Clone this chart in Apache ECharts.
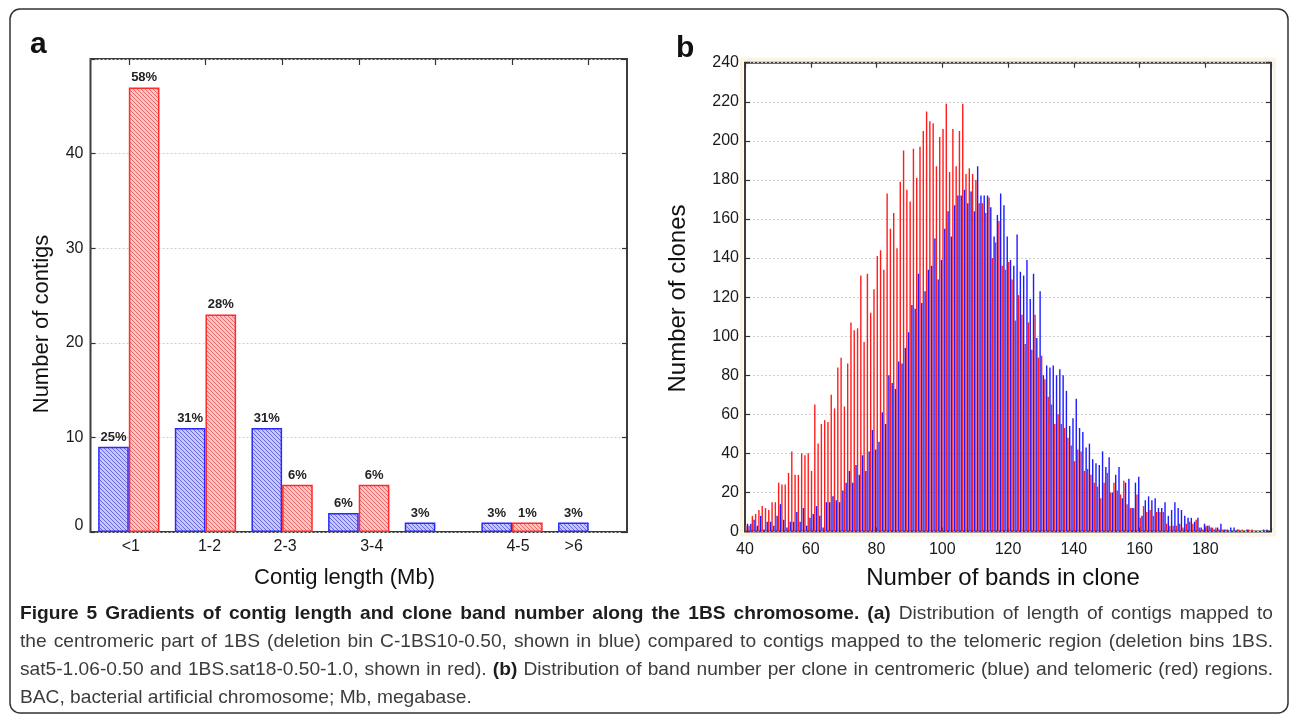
<!DOCTYPE html>
<html>
<head>
<meta charset="utf-8">
<script src="https://cdn.jsdelivr.net/npm/echarts@6/dist/echarts.min.js"></script>
<style>
  html, body { margin: 0; padding: 0; background: #fff; }
  #chart { width: 1290px; height: 717px; }
</style>
</head>
<body>
<div id="chart"></div>
<script>
// ---------------- DATA ----------------
// Panel a: contig length classes
const contigCats = ['<1', '1-2', '2-3', '3-4', '', '4-5', '>6'];
const contigBlue = [9, 11, 11, 2, 1, 1, 1];
const contigRed = [47, 23, 5, 5, 0, 1, 0];
const contigBluePct = ['25%', '31%', '31%', '6%', '3%', '3%', '3%'];
const contigRedPct = ['58%', '28%', '6%', '6%', '', '1%', ''];
const contigYTicks = [0, 10, 20, 30, 40];

// Panel b: number of bands in clone (40 .. 199)
const bandFirst = 40;
const bandRed = [
  3, 3, 8, 9, 11, 13, 12, 11, 15, 15,
  25, 24, 24, 30, 41, 29, 29, 40, 39, 40,
  31, 65, 45, 55, 57, 56, 70, 63, 84, 89,
  64, 86, 107, 103, 104, 131, 97, 132, 112, 124,
  141, 144, 134, 173, 155, 163, 145, 179, 195, 175,
  169, 196, 181, 197, 205, 215, 210, 209, 187, 202,
  206, 219, 184, 206, 187, 205, 219, 183, 186, 183,
  180, 168, 168, 163, 171, 140, 148, 159, 136, 134,
  138, 129, 108, 121, 111, 96, 107, 93, 111, 89,
  90, 78, 69, 65, 55, 60, 55, 53, 48, 44,
  36, 42, 41, 31, 32, 29, 25, 23, 17, 25,
  30, 20, 25, 21, 19, 26, 14, 12, 12, 19,
  7, 13, 10, 11, 8, 10, 10, 10, 4, 3,
  3, 3, 4, 2, 4, 5, 4, 6, 2, 1,
  3, 3, 2, 2, 1, 1, 1, 0, 0, 0,
  1, 1, 0, 1, 1, 0, 0, 0, 0, 0
];
const bandBlue = [
  4, 4, 6, 3, 8, 1, 5, 5, 3, 8,
  14, 6, 2, 5, 5, 10, 5, 12, 3, 7,
  9, 13, 8, 2, 15, 15, 18, 16, 15, 21,
  25, 31, 25, 34, 29, 39, 31, 41, 52, 42,
  46, 61, 55, 80, 76, 73, 87, 86, 94, 102,
  116, 114, 132, 117, 123, 134, 136, 150, 129, 139,
  155, 164, 151, 167, 172, 172, 175, 168, 174, 164,
  187, 172, 172, 172, 166, 151, 162, 173, 167, 151,
  139, 136, 152, 133, 131, 139, 119, 132, 99, 123,
  80, 85, 84, 85, 80, 83, 80, 72, 54, 58,
  68, 53, 51, 43, 45, 37, 35, 34, 41, 33,
  38, 20, 29, 33, 17, 25, 27, 12, 25, 28,
  8, 16, 18, 16, 17, 12, 12, 15, 8, 11,
  15, 12, 11, 8, 7, 7, 5, 7, 2, 4,
  3, 2, 1, 2, 4, 1, 1, 2, 2, 1,
  0, 0, 1, 0, 0, 0, 0, 1, 1, 0
];
const bandCats = bandRed.map((_, i) => String(bandFirst + i));
const bandXTicks = [40, 60, 80, 100, 120, 140, 160, 180];
const bandYTicks = [0, 20, 40, 60, 80, 100, 120, 140, 160, 180, 200, 220, 240];

// Texts
const panelATitle = 'a';
const panelBTitle = 'b';
const aXName = 'Contig length (Mb)';
const aYName = 'Number of contigs';
const bXName = 'Number of bands in clone';
const bYName = 'Number of clones';
const captionLines = [
  [{ t: 'Figure 5 Gradients of contig length and clone band number along the 1BS chromosome.', b: true }, { t: '(a)', b: true }, { t: 'Distribution of length of contigs mapped to', b: false }],
  [{ t: 'the centromeric part of 1BS (deletion bin C-1BS10-0.50, shown in blue) compared to contigs mapped to the telomeric region (deletion bins 1BS.', b: false }],
  [{ t: 'sat5-1.06-0.50 and 1BS.sat18-0.50-1.0, shown in red).', b: false }, { t: '(b)', b: true }, { t: 'Distribution of band number per clone in centromeric (blue) and telomeric (red) regions.', b: false }],
  [{ t: 'BAC, bacterial artificial chromosome; Mb, megabase.', b: false }]
];

// ---------------- STYLE ----------------
const FONT = "'Liberation Sans', Arial, sans-serif";
const gridA = { left: 90.5, top: 59, width: 536.5, height: 473 };
const gridB = { left: 745, top: 62.7, width: 526, height: 468.8 };
const labelShiftA = [2, 4, 3, 13, 0, 6, -15];

function hatch(bg, fg) {
  const c = document.createElement('canvas');
  c.width = 4; c.height = 4;
  const g = c.getContext('2d');
  g.fillStyle = bg; g.fillRect(0, 0, 4, 4);
  g.fillStyle = fg;
  for (let i = 0; i < 4; i++) g.fillRect(i, i, 1, 1);
  return c;
}
const blueHatch = { image: hatch('#c6c6f7', '#6a6ae4'), repeat: 'repeat' };
const redHatch = { image: hatch('#f9c6c6', '#ec6a6a'), repeat: 'repeat' };

const dotted = { show: true, lineStyle: { color: '#cfcfcf', type: [2, 2], width: 1 } };
const tickIn = (len) => ({ show: true, inside: true, length: len, lineStyle: { color: '#333', width: 1.2 } });
const noLine = { show: false, onZero: false };

// category items with per-label horizontal shift (padding)
const contigCatItems = contigCats.map((c, i) => {
  const s = labelShiftA[i];
  return { value: c, textStyle: { padding: s >= 0 ? [0, 0, 0, 2 * s] : [0, -2 * s, 0, 0] } };
});

// ---------------- CAPTION LAYOUT ----------------
const mctx = document.createElement('canvas').getContext('2d');
function tw(font, s) { mctx.font = font; return mctx.measureText(s).width; }
const capFamily = "'Liberation Sans'";
function capFont(bold, size) { return (bold ? 'bold ' : 'normal ') + size + 'px ' + capFamily; }
function lineWords(line) {
  const out = [];
  line.forEach(seg => seg.t.split(' ').forEach(w => { if (w) out.push({ w, b: seg.b }); }));
  return out;
}
function naturalWidth(line, size) {
  const ws = lineWords(line);
  let s = 0;
  ws.forEach(o => { s += tw(capFont(o.b, size), o.w); });
  s += (ws.length - 1) * tw(capFont(false, size), ' ');
  return s;
}
const capX0 = 20, capX1 = 1273;
const capTarget = 1238;
let capSize = 20 * capTarget / Math.max(naturalWidth(captionLines[0], 20), naturalWidth(captionLines[1], 20), naturalWidth(captionLines[2], 20));
capSize = Math.min(capSize, 21);
const capY = [614, 642, 670, 698];
const captionGraphics = [];
captionLines.forEach((line, li) => {
  const ws = lineWords(line);
  const widths = ws.map(o => tw(capFont(o.b, capSize), o.w));
  const sum = widths.reduce((a, b) => a + b, 0);
  const justify = li < captionLines.length - 1;
  const gap = justify ? (capX1 - capX0 - sum) / (ws.length - 1) : tw(capFont(false, capSize), ' ');
  let x = capX0;
  ws.forEach((o, i) => {
    captionGraphics.push({
      type: 'text', x: x, y: capY[li], silent: true,
      style: { text: o.w, fontSize: capSize, fontFamily: capFamily, fontWeight: o.b ? 'bold' : 'normal',
        fill: o.b ? '#1d1d1d' : '#3c3c3c', align: 'left', verticalAlign: 'middle' }
    });
    x += widths[i] + gap;
  });
});

// ---------------- CHART ----------------
const chart = echarts.init(document.getElementById('chart'), null, { renderer: 'canvas' });
const option = {
  animation: false,
  backgroundColor: '#ffffff',
  grid: [
    Object.assign({ show: true, borderColor: '#3d3d3d', borderWidth: 2, backgroundColor: 'transparent' }, gridA),
    Object.assign({ show: true, borderColor: '#3d3d3d', borderWidth: 2, backgroundColor: 'transparent' }, gridB)
  ],
  xAxis: [
    { gridIndex: 0, type: 'category', data: contigCatItems, position: 'bottom', boundaryGap: true,
      axisLine: noLine, axisTick: { show: false },
      axisLabel: { margin: 7, interval: 0, fontSize: 16, fontFamily: FONT, color: '#1a1a1a' } },
    { gridIndex: 0, type: 'category', data: contigCats, position: 'top', boundaryGap: true,
      axisLine: noLine, axisTick: Object.assign(tickIn(6), { alignWithLabel: true, interval: 0 }),
      axisLabel: { show: false } },
    { gridIndex: 1, type: 'category', data: bandCats, position: 'bottom', boundaryGap: true, show: false,
      axisLine: noLine },
    { gridIndex: 1, type: 'value', min: 40, max: 200, interval: 20, position: 'bottom',
      axisLine: noLine, axisTick: tickIn(4), splitLine: { show: false },
      axisLabel: { margin: 10, fontSize: 16, fontFamily: FONT, color: '#1a1a1a',
        formatter: v => bandXTicks.indexOf(v) >= 0 ? String(v) : '' } },
    { gridIndex: 1, type: 'value', min: 40, max: 200, interval: 20, position: 'top',
      axisLine: noLine, axisTick: tickIn(5), splitLine: { show: false }, axisLabel: { show: false } }
  ],
  yAxis: [
    { gridIndex: 0, type: 'value', min: 0, max: 50, interval: 10, position: 'left',
      axisLine: noLine, axisTick: tickIn(5), splitLine: dotted,
      axisLabel: { margin: 7, fontSize: 16, fontFamily: FONT, color: '#1a1a1a',
        formatter: v => v === 0 ? '{z|0}' : (contigYTicks.indexOf(v) >= 0 ? String(v) : ''),
        rich: { z: { fontSize: 16, fontFamily: FONT, color: '#1a1a1a', padding: [0, 0, 12, 0] } } } },
    { gridIndex: 0, type: 'value', min: 0, max: 50, interval: 10, position: 'right',
      axisLine: noLine, axisTick: tickIn(5), splitLine: { show: false }, axisLabel: { show: false } },
    { gridIndex: 1, type: 'value', min: 0, max: 240, interval: 20, position: 'left',
      axisLine: noLine, axisTick: tickIn(5), splitLine: dotted,
      axisLabel: { margin: 6, fontSize: 16, fontFamily: FONT, color: '#1a1a1a',
        formatter: v => bandYTicks.indexOf(v) >= 0 ? String(v) : '' } },
    { gridIndex: 1, type: 'value', min: 0, max: 240, interval: 20, position: 'right',
      axisLine: noLine, axisTick: tickIn(5), splitLine: { show: false }, axisLabel: { show: false } }
  ],
  series: [
    { name: 'centromeric', type: 'bar', xAxisIndex: 0, yAxisIndex: 0,
      data: contigBlue.map(v => v === 0 ? '-' : v), barGap: '0%', barCategoryGap: '20%',
      itemStyle: { color: blueHatch, borderColor: '#2a2aff', borderWidth: 1.5 },
      label: { show: true, position: 'top', distance: 3, fontSize: 13, fontWeight: 'bold', fontFamily: FONT, color: '#222',
        formatter: p => contigBluePct[p.dataIndex] } },
    { name: 'telomeric', type: 'bar', xAxisIndex: 0, yAxisIndex: 0,
      data: contigRed.map(v => v === 0 ? '-' : v), barGap: '0%', barCategoryGap: '20%',
      itemStyle: { color: redHatch, borderColor: '#ff2a2a', borderWidth: 1.5 },
      label: { show: true, position: 'top', distance: 3, fontSize: 13, fontWeight: 'bold', fontFamily: FONT, color: '#222',
        formatter: p => contigRedPct[p.dataIndex] } },
    { name: 'telomeric bands', type: 'bar', xAxisIndex: 2, yAxisIndex: 2,
      data: bandRed, barWidth: 1.4, barGap: '25%', silent: true,
      itemStyle: { color: '#ff1c1c' } },
    { name: 'centromeric bands', type: 'bar', xAxisIndex: 2, yAxisIndex: 2,
      data: bandBlue, barWidth: 1.4, barGap: '25%', silent: true,
      itemStyle: { color: '#1c1cff' } }
  ],
  graphic: [
    { type: 'rect', silent: true, z: 0,
      shape: { x: 10, y: 9, width: 1278, height: 704, r: 10 },
      style: { fill: 'none', stroke: '#333', lineWidth: 1.5 } },
    { type: 'rect', silent: true, z: 0,
      shape: { x: gridB.left - 3.5, y: gridB.top - 3.5, width: gridB.width + 7, height: gridB.height + 7 },
      style: { fill: 'none', stroke: '#fcf4e3', lineWidth: 3 } },
    { type: 'text', x: 30, y: 45, silent: true,
      style: { text: panelATitle, fontSize: 30, fontWeight: 'bold', fontFamily: FONT, fill: '#111', align: 'left', verticalAlign: 'middle' } },
    { type: 'text', x: 676, y: 49, silent: true,
      style: { text: panelBTitle, fontSize: 30, fontWeight: 'bold', fontFamily: FONT, fill: '#111', align: 'left', verticalAlign: 'middle' } },
    { type: 'text', x: 42, y: 324, rotation: Math.PI / 2, silent: true,
      style: { text: aYName, fontSize: 22, fontFamily: FONT, fill: '#111', align: 'center', verticalAlign: 'middle' } },
    { type: 'text', x: 344.5, y: 578, silent: true,
      style: { text: aXName, fontSize: 22, fontFamily: FONT, fill: '#111', align: 'center', verticalAlign: 'middle' } },
    { type: 'text', x: 678, y: 298.5, rotation: Math.PI / 2, silent: true,
      style: { text: bYName, fontSize: 24, fontFamily: FONT, fill: '#111', align: 'center', verticalAlign: 'middle' } },
    { type: 'text', x: 1003, y: 578, silent: true,
      style: { text: bXName, fontSize: 24, fontFamily: FONT, fill: '#111', align: 'center', verticalAlign: 'middle' } }
  ].concat(captionGraphics)
};
chart.setOption(option);
</script>
</body>
</html>
